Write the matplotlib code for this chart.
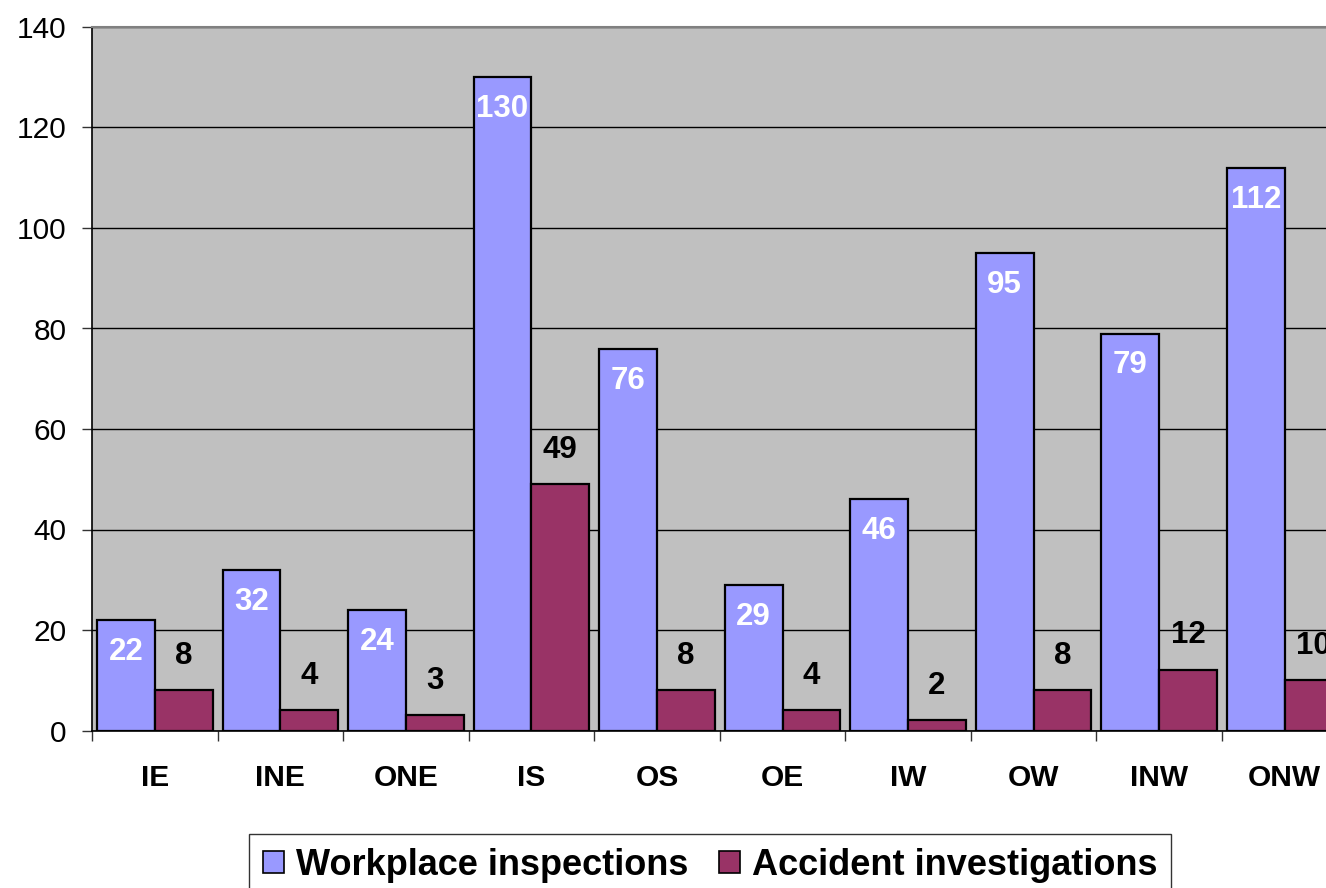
import matplotlib
matplotlib.use("Agg")
import matplotlib.pyplot as plt
from matplotlib.patches import Patch
import numpy as np

categories = ["IE", "INE", "ONE", "IS", "OS", "OE", "IW", "OW", "INW", "ONW"]
inspections = [22, 32, 24, 130, 76, 29, 46, 95, 79, 112]
accidents = [8, 4, 3, 49, 8, 4, 2, 8, 12, 10]
series_names = ["Workplace inspections", "Accident investigations"]

BLUE = "#9999FF"
RED = "#993366"
BG = "#C0C0C0"

plt.rcParams["font.family"] = ["Liberation Sans", "DejaVu Sans"]

W, H = 1326, 888
fig = plt.figure(figsize=(W / 100, H / 100), dpi=100)
left, right, bottom, top = 92 / W, 1347.5 / W, (H - 730.5) / H, (H - 27) / H
ax = fig.add_axes([left, bottom, right - left, top - bottom])
ax.set_facecolor(BG)

x = np.arange(len(categories))
bw = 0.46
b1 = ax.bar(x - bw / 2, inspections, bw, color=BLUE, edgecolor="black", linewidth=1.6, zorder=3)
b2 = ax.bar(x + bw / 2, accidents, bw, color=RED, edgecolor="black", linewidth=1.6, zorder=3)

for rect, v in zip(b1, inspections):
    ax.annotate(str(v), (rect.get_x() + rect.get_width() / 2, v), xytext=(0, -23),
                textcoords="offset points", ha="center", va="center", color="white",
                fontsize=22.5, fontweight="bold", zorder=4, annotation_clip=False)
for rect, v in zip(b2, accidents):
    ax.annotate(str(v), (rect.get_x() + rect.get_width() / 2, v), xytext=(0, 25),
                textcoords="offset points", ha="center", va="center", color="black",
                fontsize=22.5, fontweight="bold", zorder=4, annotation_clip=False)

ax.set_xlim(-0.5, len(categories) - 0.5)
ax.set_ylim(0, 140)
ax.set_yticks(np.arange(0, 141, 20))
ax.tick_params(axis="y", length=7.5, width=1, direction="out", pad=11, labelsize=21.5, color="#333333")
ax.yaxis.grid(True, color="black", linewidth=1, zorder=1)
ax.set_axisbelow(True)

ax.set_xticks(np.arange(-0.5, len(categories), 1.0))
ax.set_xticklabels([])
ax.tick_params(axis="x", which="major", length=7.5, width=1, direction="out", color="#333333")
ax.set_xticks(x, minor=True)
ax.set_xticklabels(categories, minor=True, fontsize=21.5, fontweight="bold")
ax.tick_params(axis="x", which="minor", length=0, pad=24)

for s in ["left", "bottom"]:
    ax.spines[s].set_color("black")
    ax.spines[s].set_linewidth(1.2)
ax.spines["top"].set_color("#808080")
ax.spines["top"].set_linewidth(1.5)
ax.spines["right"].set_visible(False)

handles = [Patch(facecolor=BLUE, edgecolor="black", linewidth=1.2),
           Patch(facecolor=RED, edgecolor="black", linewidth=1.2)]
leg = fig.legend(handles, series_names, loc="upper left", bbox_to_anchor=(249 / W, 1 - 834 / H),
                 ncol=2, frameon=True, fancybox=False, edgecolor="black",
                 prop={"size": 26, "weight": "bold"}, handlelength=0.58, handleheight=0.58,
                 handletextpad=0.33, columnspacing=0.85, borderpad=0.38, borderaxespad=0)
leg.get_frame().set_linewidth(1)

fig.savefig("out.png", dpi=100)
